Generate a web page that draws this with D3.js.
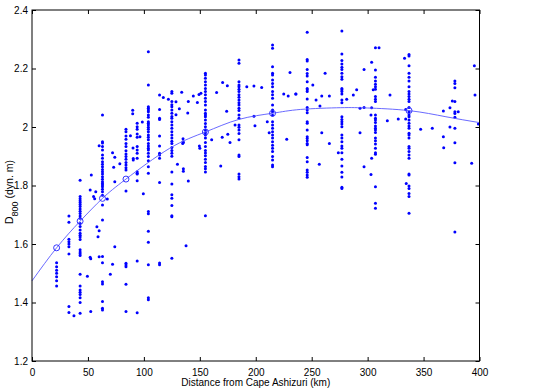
<!DOCTYPE html>
<html>
<head>
<meta charset="utf-8">
<script src="https://cdn.jsdelivr.net/npm/d3@7/dist/d3.min.js"></script>
<style>
body { margin: 0; background: #fff; }
svg { display: block; font-family: "Liberation Sans", Arial, Helvetica, sans-serif; }
.axis text { font-size: 10px; fill: #000; }
.axis line { stroke: #000; }
</style>
</head>
<body>
<div id="chart"></div>
<script>

// data
// ----------------------------------------

// stations along the section (km) and the D800 values observed at each
var stationKm = [22, 33, 43, 63, 84, 94, 104, 114, 125, 155, 185, 215, 246, 277, 307, 337, 378];
var stationD = [
	[1.536, 1.522, 1.51, 1.50, 1.488, 1.474, 1.456],
	[1.696, 1.674, 1.616, 1.608, 1.60, 1.591, 1.566, 1.386, 1.366],
	[1.818, 1.762, 1.755, 1.748, 1.742, 1.735, 1.728, 1.72, 1.712, 1.704, 1.696, 1.688, 1.670, 1.66, 1.648, 1.637, 1.63, 1.624, 1.615, 1.58, 1.573, 1.567, 1.561, 1.497, 1.456, 1.443, 1.435, 1.427, 1.416, 1.40, 1.363],
	[2.041, 1.95, 1.945, 1.933, 1.921, 1.904, 1.893, 1.881, 1.873, 1.864, 1.855, 1.847, 1.839, 1.830, 1.821, 1.813, 1.807, 1.802, 1.796, 1.787, 1.779, 1.767, 1.733, 1.682, 1.557, 1.536, 1.471, 1.463, 1.403, 1.380, 1.374],
	[1.992, 1.984, 1.969, 1.958, 1.944, 1.933, 1.919, 1.908, 1.899, 1.890, 1.879, 1.870, 1.861, 1.853, 1.781, 1.534, 1.528, 1.522, 1.462, 1.369],
	[2.013, 2.001, 1.992, 1.976, 1.965, 1.933, 1.921, 1.910, 1.893, 1.847, 1.839, 1.842, 1.816, 1.542, 1.365],
	[2.257, 2.144, 2.069, 2.064, 2.058, 2.052, 2.041, 2.033, 2.018, 2.013, 2.007, 1.999, 1.992, 1.984, 1.973, 1.965, 1.956, 1.944, 1.935, 1.927, 1.921, 1.910, 1.899, 1.885, 1.864, 1.842, 1.711, 1.703, 1.644, 1.606, 1.529, 1.416, 1.409],
	[2.109, 2.060, 2.030, 2.026, 1.969, 1.935, 1.91, 1.904, 1.893, 1.81, 1.535, 1.529],
	[2.121, 2.115, 2.087, 2.076, 2.069, 2.058, 2.047, 2.036, 2.030, 2.018, 2.007, 1.996, 1.984, 1.973, 1.962, 1.951, 1.944, 1.930, 1.92, 1.91, 1.90, 1.846, 1.805, 1.768, 1.756, 1.732, 1.697, 1.693, 1.551],
	[2.184, 2.178, 2.167, 2.155, 2.144, 2.132, 2.121, 2.110, 2.098, 2.087, 2.075, 2.058, 2.047, 2.041, 2.035, 2.024, 2.012, 2.001, 1.99, 1.98, 1.973, 1.962, 1.947, 1.933, 1.920, 1.911, 1.902, 1.890, 1.879, 1.865, 1.857, 1.846, 1.697],
	[2.229, 2.218, 2.155, 2.144, 2.138, 2.129, 2.121, 2.110, 2.102, 2.092, 2.083, 2.075, 2.064, 2.056, 2.041, 2.030, 2.007, 1.999, 1.990, 1.978, 1.956, 1.904, 1.899, 1.839, 1.830, 1.822],
	[2.28, 2.269, 2.206, 2.184, 2.178, 2.161, 2.149, 2.138, 2.121, 2.110, 2.098, 2.075, 2.058, 2.052, 2.040, 2.018, 2.007, 1.996, 1.984, 1.973, 1.962, 1.950, 1.938, 1.927, 1.916, 1.899, 1.887, 1.870, 1.864],
	[2.324, 2.231, 2.226, 2.197, 2.183, 2.174, 2.155, 2.132, 2.127, 2.121, 2.096, 2.067, 2.058, 2.049, 2.018, 2.013, 1.99, 1.967, 1.961, 1.953, 1.944, 1.939, 1.896, 1.881, 1.853, 1.845, 1.836, 1.828],
	[2.328, 2.25, 2.227, 2.215, 2.204, 2.197, 2.184, 2.172, 2.163, 2.132, 2.127, 2.121, 2.113, 2.092, 2.083, 2.035, 2.026, 2.018, 2.010, 2.001, 1.973, 1.962, 1.950, 1.935, 1.927, 1.912, 1.890, 1.867, 1.845, 1.829, 1.794, 1.790],
	[2.271, 2.195, 2.170, 2.157, 2.146, 2.138, 2.129, 2.104, 2.095, 2.087, 2.041, 2.030, 2.024, 2.015, 2.003, 1.996, 1.990, 1.981, 1.962, 1.953, 1.942, 1.927, 1.912, 1.907, 1.796, 1.739, 1.722],
	[2.248, 2.243, 2.209, 2.184, 2.170, 2.157, 2.138, 2.121, 2.113, 2.104, 2.095, 2.087, 2.067, 2.052, 2.041, 2.035, 2.024, 2.013, 2.003, 1.996, 1.979, 1.973, 1.962, 1.933, 1.927, 1.916, 1.904, 1.893, 1.839, 1.836, 1.798, 1.790, 1.773, 1.762, 1.705],
	[2.157, 2.149, 2.134, 2.087, 2.052, 2.046, 2.033, 1.996, 1.946, 1.878, 1.641]
];

// casts off the main lines
var otherKm = [37.5, 49.5, 52, 52.5, 53, 52, 55, 56, 57, 58, 59, 60, 52.5, 60, 60, 67.3, 72, 74, 73, 74, 74, 70, 72, 78.5,
	88, 90, 90, 90.3, 90.5, 90.5, 96.5, 98.6, 99.5,
	117.4, 128.7, 130, 131.7, 133.8, 135, 135, 139.7, 121.9, 128.7, 139.2, 144.2, 149.3, 147.8, 135.3, 135.3, 139.7, 149.6, 150, 135.3, 137.7, 134.7, 151,
	160.6, 165, 168.7, 174.6, 174, 175, 177, 170.4, 170, 181.5, 192, 198.4, 205.3, 198.4, 199.3, 210.3, 212,
	225, 229, 230.6, 235.7, 227.7, 236, 251, 253.9, 259, 257.4, 262, 265.8, 259, 265.8, 256.8, 273.8,
	281.3, 287.2, 290.2, 293.2, 296.8, 293.2, 296.8, 296.8, 303.6, 305, 303.6, 303, 303.6, 303, 310.2,
	317.6, 320, 327.4, 333, 334, 334, 334.5, 347.4, 357.8, 367.7, 367.7, 368, 373.6, 373.6, 375.7, 381, 395.4, 396, 393, 399];
var otherD = [1.355, 1.49, 1.555, 1.55, 1.836, 1.785, 1.762, 1.755, 1.779, 1.659, 1.625, 1.645, 1.369, 1.936, 1.556, 1.754, 1.912, 1.897, 1.862, 1.813, 1.591, 1.497, 1.531, 1.874,
	1.97, 2.057, 2.045, 1.928, 1.892, 1.887, 1.967, 2.017, 1.772,
	2.101, 2.086, 1.873, 2.062, 2.119, 1.96, 1.95, 2.087, 2.095, 2.042, 2.048, 2.106, 2.111, 2.084, 1.947, 1.849, 1.815, 1.935, 1.927, 1.857, 1.594, 1.944, 2.115,
	1.956, 2.118, 1.867, 2.141, 2.054, 1.975, 1.947, 2.152, 1.965, 2.007, 2.138, 2.140, 2.135, 2.037, 2.004, 2.018, 1.98,
	2.113, 2.106, 2.186, 2.113, 1.958, 2.113, 2.144, 2.092, 2.106, 2.072, 2.184, 2.106, 1.98, 1.944, 1.873, 1.912,
	2.095, 2.109, 2.127, 2.064, 2.067, 1.98, 2.197, 1.864, 2.221, 2.127, 2.066, 2.041, 1.893, 1.838, 2.271,
	2.021, 2.109, 2.027, 2.235, 2.06, 2.027, 1.807, 1.992, 1.996, 2.055, 1.967, 1.929, 2.066, 2.0, 2.089, 2.052, 2.209, 2.109, 1.876, 2.010];

// smooth fitted curve, sampled from the figure
var fitKm = [0, 22, 43, 63, 84, 123, 155, 185, 215, 240, 276, 300, 337, 370, 400];
var fitD = [1.474, 1.587, 1.678, 1.756, 1.822, 1.927, 1.983, 2.026, 2.047, 2.060, 2.066, 2.065, 2.056, 2.035, 2.015];

// open circles sitting on the curve
var meanKm = [22, 43, 63, 84, 155, 215, 337];
var meanD = [1.587, 1.678, 1.756, 1.822, 1.983, 2.047, 2.056];

var xTicks = [0, 50, 100, 150, 200, 250, 300, 350, 400];
var yTicks = [1.2, 1.4, 1.6, 1.8, 2.0, 2.2, 2.4];
var yTickLabels = ["1.2", "1.4", "1.6", "1.8", "2", "2.2", "2.4"];

// main variables
// ----------------------------------------

var width = 537,
height = 388;

var margin = {top: 10, right: 57.5, bottom: 27, left: 32},
plot_w = width - (margin.left + margin.right),
plot_h = height - (margin.top + margin.bottom);

var svg = d3.select("#chart")
	.append("svg")
	.attr("width", width)
	.attr("height", height);

var plot = svg.append("g")
	.attr("transform", "translate(" + margin.left + "," + margin.top + ")");

var x = d3.scaleLinear().domain([0, 400]).range([0, plot_w]);
var y = d3.scaleLinear().domain([1.2, 2.4]).range([plot_h, 0]);

// flatten stations + strays into points
var points = [];
stationKm.forEach(function(km, i) {
	stationD[i].forEach(function(v) { points.push([km, v]); });
});
otherKm.forEach(function(km, i) { points.push([km, otherD[i]]); });

plot.append("g")
	.selectAll("circle")
	.data(points)
	.enter().append("circle")
	.attr("cx", function(d) { return x(d[0]); })
	.attr("cy", function(d) { return y(d[1]); })
	.attr("r", 1.5)
	.attr("fill", "#0000ff");

// fitted line
var line = d3.line()
	.curve(d3.curveNatural)
	.x(function(d, i) { return x(fitKm[i]); })
	.y(function(d) { return y(d); });

plot.append("path")
	.datum(fitD)
	.attr("d", line)
	.attr("fill", "none")
	.attr("stroke", "#5959ff")
	.attr("stroke-width", 0.9);

plot.append("g")
	.selectAll("circle")
	.data(meanD)
	.enter().append("circle")
	.attr("cx", function(d, i) { return x(meanKm[i]); })
	.attr("cy", function(d) { return y(d); })
	.attr("r", 3)
	.attr("fill", "none")
	.attr("stroke", "#3333ff")
	.attr("stroke-width", 1);

// axes, ticks pointing inwards on all four sides
plot.append("g")
	.attr("class", "axis")
	.attr("transform", "translate(0," + plot_h + ")")
	.call(d3.axisBottom(x).tickValues(xTicks).tickSize(-4).tickPadding(8))
	.call(function(g) { g.select(".domain").remove(); });

plot.append("g")
	.attr("class", "axis")
	.call(d3.axisLeft(y).tickValues(yTicks).tickSize(-4).tickPadding(4)
		.tickFormat(function(d, i) { return yTickLabels[i]; }))
	.call(function(g) { g.select(".domain").remove(); });

plot.append("g")
	.attr("class", "axis")
	.call(d3.axisTop(x).tickValues(xTicks).tickSize(-4).tickFormat(""))
	.call(function(g) { g.select(".domain").remove(); });

plot.append("g")
	.attr("class", "axis")
	.attr("transform", "translate(" + plot_w + ",0)")
	.call(d3.axisRight(y).tickValues(yTicks).tickSize(-4).tickFormat(""))
	.call(function(g) { g.select(".domain").remove(); });

plot.append("rect")
	.attr("x", 0)
	.attr("y", 0)
	.attr("width", plot_w)
	.attr("height", plot_h)
	.attr("fill", "none")
	.attr("stroke", "#000")
	.attr("stroke-width", 1);

// labels
svg.append("text")
	.attr("x", margin.left + plot_w / 2)
	.attr("y", 386)
	.attr("text-anchor", "middle")
	.attr("font-size", "10px")
	.text("Distance from Cape Ashizuri (km)");

var ylab = svg.append("text")
	.attr("transform", "translate(12.5,192) rotate(-90)")
	.attr("text-anchor", "middle")
	.attr("font-size", "10.5px");
ylab.append("tspan").text("D");
ylab.append("tspan").attr("baseline-shift", "sub").attr("font-size", "9px").text("800");
ylab.append("tspan").text(" (dyn. m)");

</script>
</body>
</html>
